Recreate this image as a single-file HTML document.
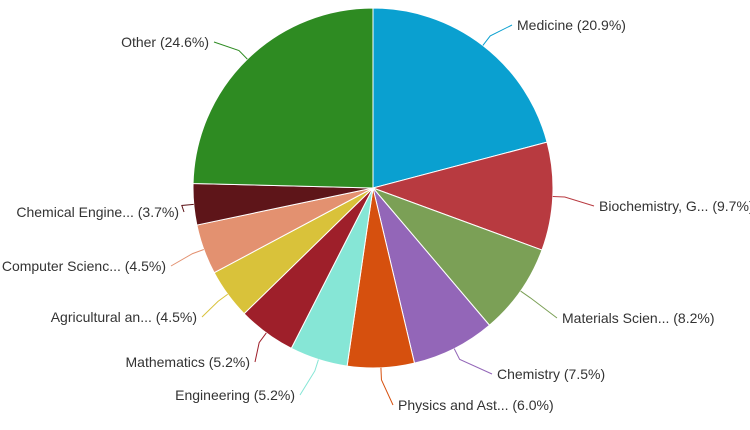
<!DOCTYPE html>
<html><head><meta charset="utf-8">
<style>
html,body{margin:0;padding:0;background:#fff;}
svg{display:block;}
text{font-family:"Liberation Sans",sans-serif;font-size:14px;fill:#333;}
</style></head>
<body>
<svg id="s" width="750" height="430" viewBox="0 0 750 430" xmlns="http://www.w3.org/2000/svg"></svg>
<script>
var cx=373,cy=188,r=180;
var d=[
["Medicine (20.9%)",20.9,"#0aa0d0",517,25,"start"],
["Biochemistry, G... (9.7%)",9.7,"#b83a40",599,206,"start"],
["Materials Scien... (8.2%)",8.2,"#7ba056",562,318,"start"],
["Chemistry (7.5%)",7.5,"#9366b8",497,374,"start"],
["Physics and Ast... (6.0%)",6.0,"#d6500e",398,405,"start"],
["Engineering (5.2%)",5.2,"#86e6d6",295,395,"end"],
["Mathematics (5.2%)",5.2,"#9e1f2a",250,362,"end"],
["Agricultural an... (4.5%)",4.5,"#d9c23a",197,317,"end"],
["Computer Scienc... (4.5%)",4.5,"#e39170",166,266,"end"],
["Chemical Engine... (3.7%)",3.7,"#5e1519",179,212,"end"],
["Other (24.6%)",24.6,"#2e8b22",209,42,"end"]];
var s=document.getElementById("s"),h="",a=0;
function pt(ang,rr){return [cx+rr*Math.sin(ang),cy-rr*Math.cos(ang)];}
d.forEach(function(e){
 var a0=a*Math.PI/50,a1=(a+e[1])*Math.PI/50,am=(a0+a1)/2;a+=e[1];
 var p0=pt(a0,r),p1=pt(a1,r);
 h+='<path d="M'+cx+','+cy+'L'+p0[0]+','+p0[1]+'A'+r+','+r+' 0 '+((a1-a0)>Math.PI?1:0)+' 1 '+p1[0]+','+p1[1]+'Z" fill="'+e[2]+'" stroke="#fff" stroke-width="1"/>';
 var q=pt(am,r),q2=pt(am,r+12),lx=e[5]=="start"?e[3]-5:e[3]+5;
 h+='<path d="M'+q[0]+','+q[1]+'L'+q2[0]+','+q2[1]+'L'+lx+','+e[4]+'" fill="none" stroke="'+e[2]+'" stroke-width="1"/>';
 h+='<text x="'+e[3]+'" y="'+(e[4]+5)+'" text-anchor="'+e[5]+'">'+e[0]+'</text>';
});
s.innerHTML=h;
</script>
</body></html>
